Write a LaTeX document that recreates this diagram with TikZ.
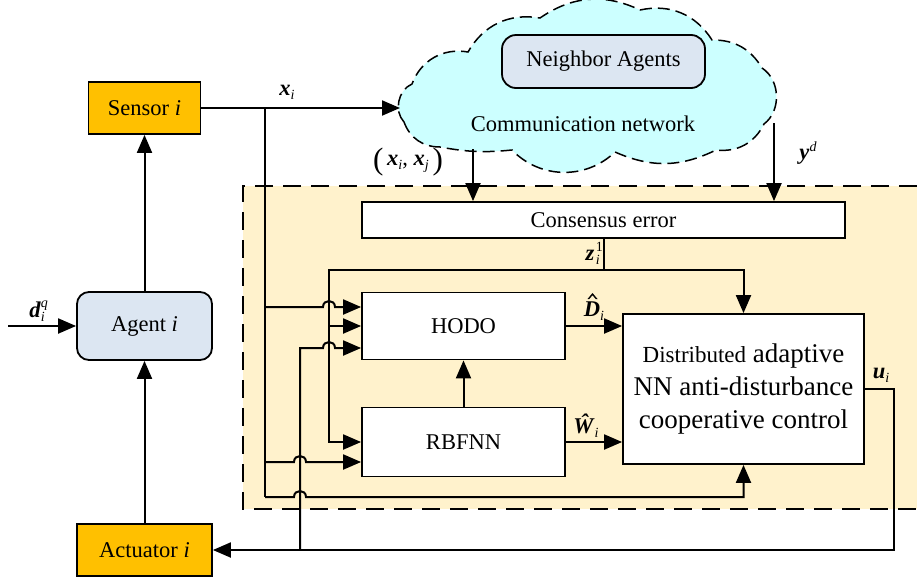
\documentclass[tikz,border=0pt]{standalone}
\usepackage{fontspec}
\setmainfont{Liberation Serif}
\usetikzlibrary{arrows.meta}
\definecolor{orangebox}{HTML}{FFC000}
\definecolor{bluebox}{HTML}{DCE6F2}
\definecolor{cloudcol}{HTML}{CCFFFF}
\definecolor{beige}{HTML}{FFF2CC}
\newcommand{\bv}[1]{\textbf{\textit{#1}}}
\newcommand{\smallfont}{\fontsize{14}{14}\selectfont}
\newcommand{\mysb}[1]{\raisebox{-4pt}{\smallfont\itshape #1}}
\newcommand{\mysp}[2]{\rlap{\raisebox{#2}{\smallfont #1}}}
\newcommand{\bigpar}[1]{\raisebox{-4pt}{\fontsize{31}{31}\selectfont #1}}
\begin{document}
\begin{tikzpicture}[x=1pt,y=-1pt,
  every node/.style={font=\fontsize{22.5}{27}\selectfont},
  blk/.style={draw, line width=1.8pt, inner sep=0pt},
  conn/.style={line width=2pt},
  arr/.style={conn, -{Triangle[length=18pt,width=15pt]}},
  lbl/.style={inner sep=0pt}
]
\useasboundingbox (0,0) rectangle (917,576);
% controller region
\fill[beige] (243,186) rectangle (917,509);
\draw[line width=2.4pt, dash pattern=on 18pt off 10pt] (917,186) -- (243,186) -- (243,509) -- (917,509);
% cloud
\draw[fill=cloudcol, line width=1.5pt, dash pattern=on 12pt off 6pt]
  (404,122) to[bend left=55] (412,84) to[bend left=40] (468,52)
  to[bend left=35] (540,18) to[bend left=30] (640,10) to[bend left=35] (712,40)
  to[bend left=30] (762,68) to[bend left=55] (764,124) to[bend left=35] (716,150)
  to[bend left=25] (615,152) to[bend left=45] (512,150) to[bend left=8] (440,147)
  to[bend left=35] cycle;
\node[blk, fill=bluebox, rounded corners=14pt, minimum width=203pt, minimum height=53pt] (nb) at (603.5,61.5) {Neighbor Agents};
\node (comm) at (583,124) {Communication network};
% left blocks
\node[blk, fill=orangebox, minimum width=112pt, minimum height=52pt] (sensor) at (144.5,108) {Sensor \textit{i}};
\node[blk, fill=bluebox, rounded corners=12pt, minimum width=135pt, minimum height=68pt] (agent) at (144.5,326) {Agent \textit{i}};
\node[blk, fill=orangebox, minimum width=135pt, minimum height=52pt] (act) at (144.5,550) {Actuator \textit{i}};
% controller blocks
\node[blk, fill=white, minimum width=483pt, minimum height=36pt] (cons) at (603.5,220) {Consensus error};
\node[blk, fill=white, minimum width=203pt, minimum height=67pt] (hodo) at (463.5,326) {HODO};
\node[blk, fill=white, minimum width=203pt, minimum height=69pt] (rbf) at (463.5,442) {RBFNN};
\node[blk, fill=white, minimum width=241pt, minimum height=150pt, align=center, font=\fontsize{27}{33}\selectfont] (ctrl) at (743.5,389)
  {{\fontsize{23}{33}\selectfont Distributed} adaptive\\NN anti-disturbance\\cooperative control};
% coordinates
\coordinate (din) at (8,326);
\coordinate (cloudL) at (400,108);
\coordinate (j1) at (265,108);
\coordinate (tA) at (265,307);
\coordinate (tB) at (265,462);
\coordinate (tC) at (265,497);
\coordinate (zj) at (604,270);
\coordinate (zL) at (329,270);
\coordinate (zM) at (329,326);
\coordinate (bj) at (300,550);
\coordinate (bT) at (300,348);
\coordinate (c1) at (473,149);
\coordinate (c2) at (774,123);
\coordinate (uR) at (894,389);
% connectors
\draw[arr] (din) -- (agent.west);
\draw[arr] (agent.north) -- (sensor.south);
\draw[arr] (act.north) -- (agent.south);
\draw[arr] (sensor.east) -- (cloudL);
\draw[conn] (j1) -- (tC);
\draw[arr] (c1) -- (c1 |- cons.north);
\draw[arr] (c2) -- (c2 |- cons.north);
\draw[arr] (cons.south -| zj) -- (zj) -| (ctrl.north);
\draw[arr] (zj) -- (zL) -- (zL |- rbf.west) -- (rbf.west);
\draw[arr] (zM) -- (hodo.west);
\draw[arr] (tA) -- (323,307) .. controls (323,299) and (335,299) .. (335,307) -- (tA -| hodo.west);
\draw[arr] (bj) -- (bT) -- (323,348) .. controls (323,340) and (335,340) .. (335,348) -- (bT -| hodo.west);
\draw[arr] (tB) -- (294,462) .. controls (294,454) and (306,454) .. (306,462) -- (tB -| rbf.west);
\draw[arr] (tC) -- (294,497) .. controls (294,489) and (306,489) .. (306,497) -- (tC -| ctrl.south) -- (ctrl.south);
\draw[arr] (rbf.north) -- (hodo.south);
\draw[arr] (hodo.east) -- (hodo.east -| ctrl.west);
\draw[arr] (rbf.east) -- (rbf.east -| ctrl.west);
\draw[arr] (ctrl.east) -- (uR) -- (uR |- act.east) -- (act.east);
% labels
\node[lbl] (lx) at (287,92) {\bv{x}\mysb{i}};
\node[lbl] (lxx) at (408,162) {\bigpar{(}\,\bv{x}\mysb{i}, \bv{x}\mysb{j}\,\bigpar{)}};
\node[lbl] (ly) at (808,153) {\bv{y}\raisebox{8pt}{\smallfont\itshape d}};
\node[lbl, anchor=east] (lz) at (600,253) {\bv{z}\hspace{1.5pt}\mysp{1}{9pt}\mysb{i}\hspace{4pt}};
\node[lbl] (ld) at (594,311) {\bv{D}\mysb{i}};
\fill ([shift={(-6.5,-12)}]ld.center) -- ++(5,-6) -- ++(5,6) -- ++(-1.8,0) -- ++(-3.2,-3.8) -- ++(-3.2,3.8) -- cycle;
\node[lbl] (lw) at (586,426) {\bv{Ŵ}\mysb{i}};
\node[lbl] (lu) at (881,375) {\bv{u}\mysb{i}};
\node[lbl] (ldq) at (37,311) {\bv{d}\mysp{\itshape q}{10pt}\mysb{i}\hspace{4pt}};
\end{tikzpicture}
\end{document}
